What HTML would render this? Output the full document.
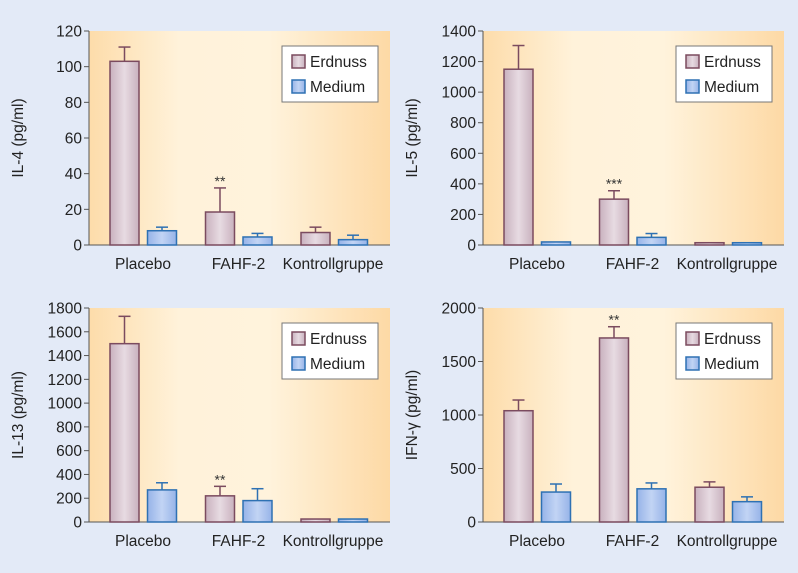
<!DOCTYPE html>
<html><head><meta charset="utf-8"><style>
body{margin:0;background:#e3eaf7;}
svg{display:block;font-family:"Liberation Sans",sans-serif;}
</style></head><body>
<svg id="c" width="798" height="573" xmlns="http://www.w3.org/2000/svg">
<defs>
<linearGradient id="bg" x1="0" x2="1" y1="0" y2="0">
<stop offset="0" stop-color="#fddcaa"/><stop offset="0.3" stop-color="#fff2da"/><stop offset="0.6" stop-color="#fff3dc"/><stop offset="1" stop-color="#fdd9a5"/></linearGradient>
<linearGradient id="ge" x1="0" x2="1"><stop offset="0" stop-color="#c9b1be"/><stop offset="0.5" stop-color="#e7dbe2"/><stop offset="1" stop-color="#c9b1be"/></linearGradient>
<linearGradient id="gm" x1="0" x2="1"><stop offset="0" stop-color="#96b3e8"/><stop offset="0.5" stop-color="#c2d4f4"/><stop offset="1" stop-color="#96b3e8"/></linearGradient>
</defs>
<rect x="0" y="0" width="798" height="573" fill="#e3eaf7"/>
</svg>
<script>
const categories = ["Placebo", "FAHF-2", "Kontrollgruppe"];
const seriesNames = ["Erdnuss", "Medium"];
const il4Erdnuss = [103, 18.5, 7];
const il4ErdnussErr = [111, 32, 10];
const il4Medium = [8, 4.5, 3];
const il4MediumErr = [10, 6.5, 5.5];
const il4Ticks = [0, 20, 40, 60, 80, 100, 120];
const il5Erdnuss = [1150, 300, 15];
const il5ErdnussErr = [1305, 355, 15];
const il5Medium = [20, 50, 15];
const il5MediumErr = [20, 75, 15];
const il5Ticks = [0, 200, 400, 600, 800, 1000, 1200, 1400];
const il13Erdnuss = [1500, 220, 25];
const il13ErdnussErr = [1730, 300, 25];
const il13Medium = [270, 180, 25];
const il13MediumErr = [330, 280, 25];
const il13Ticks = [0, 200, 400, 600, 800, 1000, 1200, 1400, 1600, 1800];
const ifnErdnuss = [1040, 1720, 325];
const ifnErdnussErr = [1140, 1825, 375];
const ifnMedium = [280, 310, 190];
const ifnMediumErr = [355, 365, 235];
const ifnTicks = [0, 500, 1000, 1500, 2000];
const stars = ["**", "***", "**", "**"];
const yTitles = ["IL-4 (pg/ml)", "IL-5 (pg/ml)", "IL-13 (pg/ml)", "IFN-γ (pg/ml)"];

const svg = document.getElementById('c');
const NS = "http://www.w3.org/2000/svg";
function mk(tag, attrs, parent) {
  const e = document.createElementNS(NS, tag);
  for (const k in attrs) e.setAttribute(k, attrs[k]);
  (parent || svg).appendChild(e);
  return e;
}
const panels = [
  {ox: 0, oy: 0, e: il4Erdnuss, ee: il4ErdnussErr, m: il4Medium, me: il4MediumErr, ticks: il4Ticks},
  {ox: 394, oy: 0, e: il5Erdnuss, ee: il5ErdnussErr, m: il5Medium, me: il5MediumErr, ticks: il5Ticks},
  {ox: 0, oy: 277, e: il13Erdnuss, ee: il13ErdnussErr, m: il13Medium, me: il13MediumErr, ticks: il13Ticks},
  {ox: 394, oy: 277, e: ifnErdnuss, ee: ifnErdnussErr, m: ifnMedium, me: ifnMediumErr, ticks: ifnTicks}
];
panels.forEach((p, pi) => {
  const g = mk('g', {});
  
  
  const x0 = 89 + p.ox, x1 = 390 + p.ox, yT = 31 + p.oy, yB = 245 + p.oy;
  const maxV = p.ticks[p.ticks.length - 1];
  const ys = v => yB - (v / maxV) * (yB - yT);
  const bg = mk('rect', {x: x0, y: yT, width: x1 - x0, height: yB - yT, fill: 'url(#bg)'}, g);
  
  
  // axes
  mk('line', {x1: x0, y1: yT, x2: x0, y2: yB, stroke: '#555', 'stroke-width': 1}, g);
  mk('line', {x1: x0, y1: yB, x2: x1, y2: yB, stroke: '#555', 'stroke-width': 1}, g);
  p.ticks.forEach(t => {
    const y = ys(t);
    mk('line', {x1: x0 - 5, y1: y, x2: x0, y2: y, stroke: '#555'}, g);
    const tx = mk('text', {x: x0 - 7, y: y + 5.5, 'text-anchor': 'end', 'font-size': 15.5, fill: '#222'}, g);
    tx.textContent = t;
    
    
  });
  const yt = mk('text', {x: 0, y: 0, transform: `translate(${23 + p.ox},${(yT + yB) / 2}) rotate(-90)`, 'text-anchor': 'middle', 'font-size': 15.5, fill: '#222'}, g);
  yt.textContent = yTitles[pi];
  
  
  categories.forEach((c, ci) => {
    const bx = 110 + p.ox + ci * 95.5;
    const bw = 29;
    [[p.e, p.ee, '#7b4b5f', 'url(#ge)', 0], [p.m, p.me, '#2e71b3', 'url(#gm)', 1]].forEach(([vals, errs, st, fi, si]) => {
      const x = bx + si * 37.5;
      const vt = ys(vals[ci]);
      const et = ys(errs[ci]);
      if (et < vt - 0.5) {
        mk('line', {x1: x + bw / 2, y1: vt, x2: x + bw / 2, y2: et, stroke: st, 'stroke-width': 1.5}, g);
        mk('line', {x1: x + bw / 2 - 6, y1: et, x2: x + bw / 2 + 6, y2: et, stroke: st, 'stroke-width': 1.5}, g);
      }
      const r = mk('rect', {x: x, y: vt, width: bw, height: Math.max(yB - vt, 0.5), fill: fi, stroke: st, 'stroke-width': 1.5}, g);
      
      
      if (si === 0 && ci === 1) {
        const s = mk('text', {x: x + bw / 2, y: et - 2, 'text-anchor': 'middle', 'font-size': 14, fill: '#333'}, g);
        s.textContent = stars[pi];
        
        
      }
    });
    const lbl = mk('text', {x: bx + 33 + (ci === 2 ? -1 : 0), y: yB + 24, 'text-anchor': 'middle', 'font-size': 15.5, fill: '#222'}, g);
    lbl.textContent = c;
    
    
  });
  // legend
  const lx = 282 + p.ox, ly = 46 + p.oy;
  const lg = mk('g', {}, g);
  
  
  mk('rect', {x: lx, y: ly, width: 96, height: 56, fill: '#fff', stroke: '#777', 'stroke-width': 1}, lg);
  [['#7b4b5f', 'url(#ge)'], ['#2e71b3', 'url(#gm)']].forEach(([st, fi], i) => {
    mk('rect', {x: lx + 10, y: ly + 9 + i * 25, width: 13, height: 13, fill: fi, stroke: st, 'stroke-width': 1.5}, lg);
    const t = mk('text', {x: lx + 28, y: ly + 21 + i * 25, 'font-size': 15.5, fill: '#222'}, lg);
    t.textContent = seriesNames[i];
    
    
  });
});
</script>
</body></html>
